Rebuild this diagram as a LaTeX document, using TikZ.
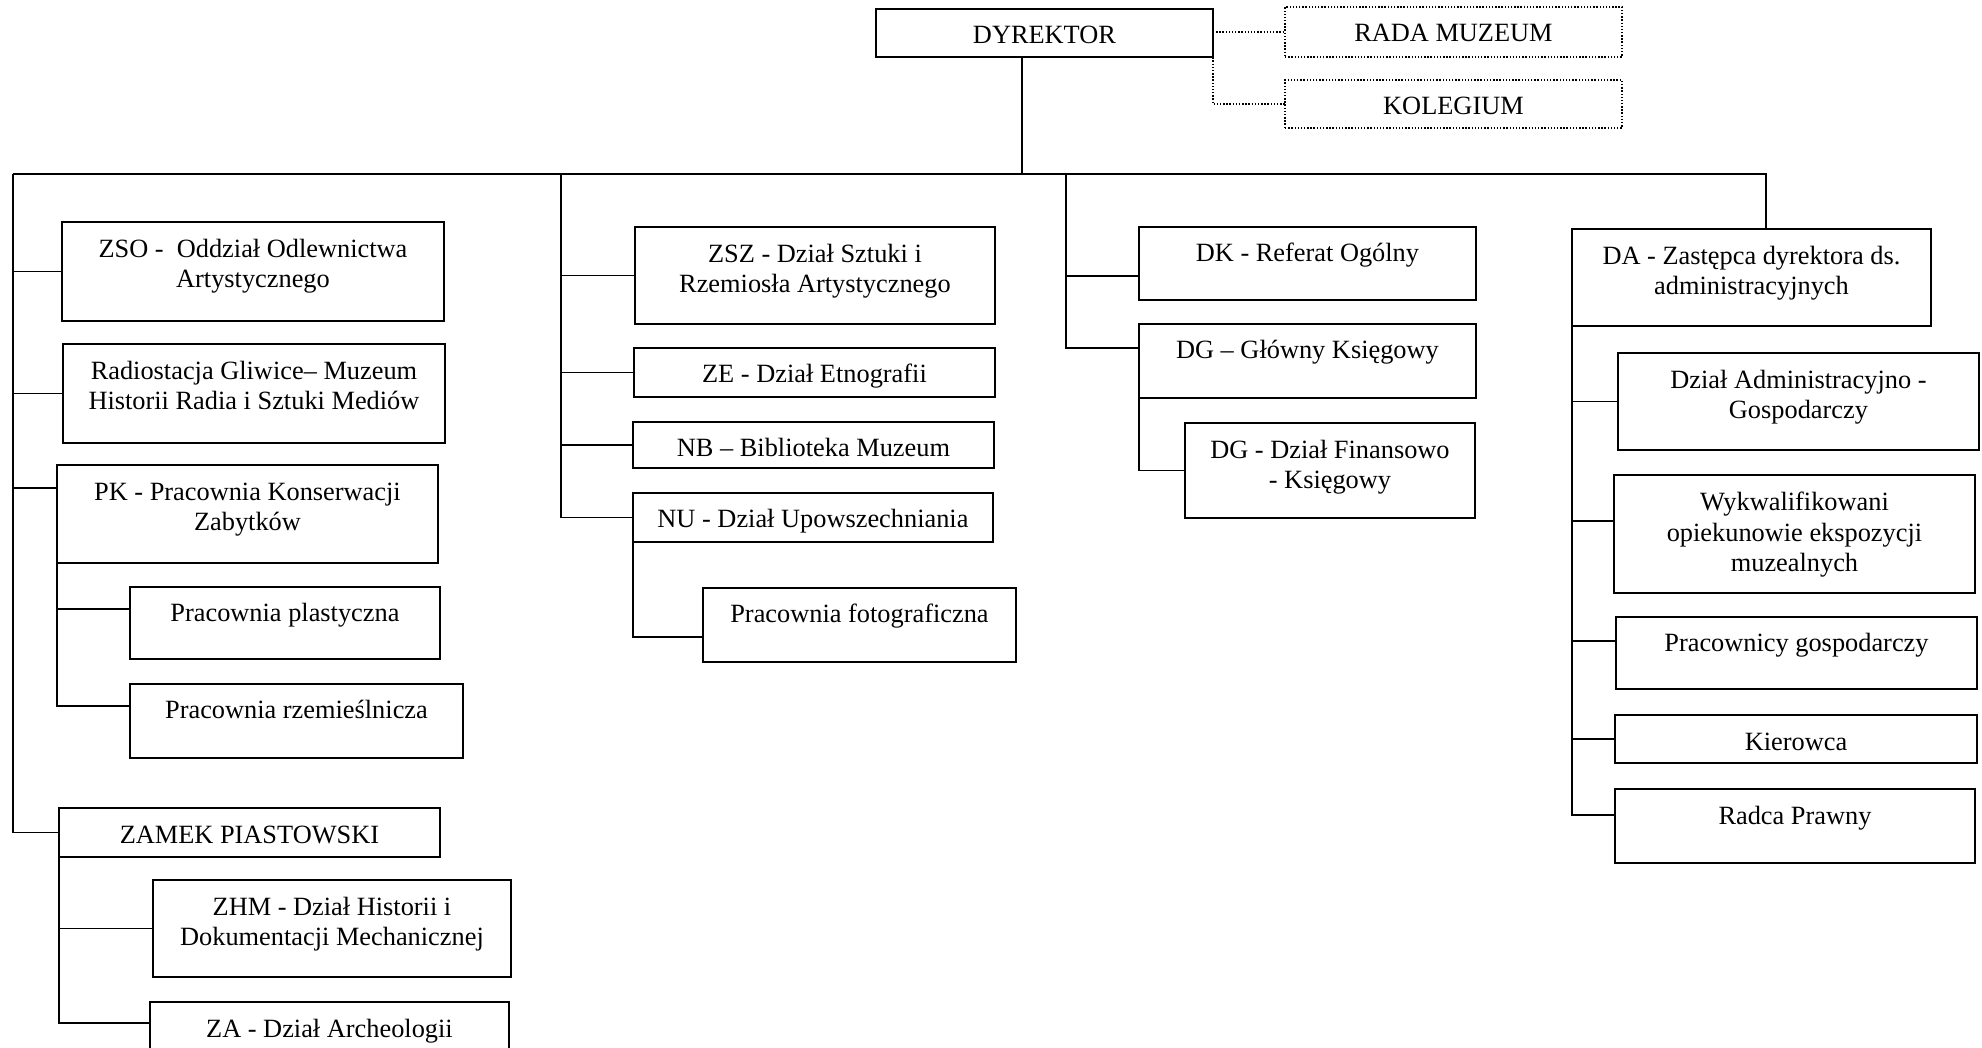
\documentclass[tikz,border=0pt]{standalone}
\usepackage{fontspec}
\setmainfont{Liberation Serif}

\tikzset{
  unit/.style={draw, line width=0.8pt, anchor=north west, outer sep=0pt,
    inner xsep=0pt, inner ysep=0pt, align=center, text height=0.7cm,
    font=\fontsize{15}{17.6}\selectfont},
  twolines/.style={text height=1.32cm},
  threelines/.style={text height=1.94cm},
  council/.style={unit, densely dotted},
  link/.style={line width=0.8pt},
  advisory/.style={line width=0.8pt, densely dotted}
}

\begin{document}
\begin{tikzpicture}[x=0.02cm, y=-0.02cm]
\useasboundingbox (0,0) rectangle (1982,1048);

% top
\node[unit, minimum width=6.74cm, text depth=0.26cm] (dyr) at (876,9) {DYREKTOR};
\node[council, minimum width=6.74cm, text depth=0.30cm] (rada) at (1285,7) {RADA MUZEUM};
\node[council, minimum width=6.74cm, text depth=0.26cm] (kol) at (1285,80) {KOLEGIUM};

% left column
\node[unit, twolines, minimum width=7.64cm, text depth=0.66cm] (zso) at (62,222) {ZSO -\ \ Oddział Odlewnictwa\\Artystycznego};
\node[unit, twolines, minimum width=7.64cm, text depth=0.66cm] (rad) at (63,344) {Radiostacja Gliwice– Muzeum\\Historii Radia i Sztuki Mediów};
\node[unit, twolines, minimum width=7.62cm, text depth=0.64cm] (pk) at (57,465) {PK - Pracownia Konserwacji\\Zabytków};
\node[unit, minimum width=6.20cm, text depth=0.74cm] (plast) at (130,587) {Pracownia plastyczna};
\node[unit, minimum width=6.66cm, text depth=0.78cm] (rzem) at (130,684) {Pracownia rzemieślnicza};
\node[unit, minimum width=7.62cm, text depth=0.28cm] (zamek) at (59,808) {ZAMEK PIASTOWSKI};
\node[unit, twolines, minimum width=7.16cm, text depth=0.62cm] (zhm) at (153,880) {ZHM - Dział Historii i\\Dokumentacji Mechanicznej};
\node[unit, minimum width=7.18cm, text depth=1.24cm] (za) at (150,1002) {ZA - Dział Archeologii};

% second column
\node[unit, twolines, minimum width=7.20cm, text depth=0.62cm] (zsz) at (635,227) {ZSZ - Dział Sztuki i\\Rzemiosła Artystycznego};
\node[unit, minimum width=7.22cm, text depth=0.28cm] (ze) at (634,348) {ZE - Dział Etnografii};
\node[unit, minimum width=7.22cm, text depth=0.22cm] (nb) at (633,422) {NB – Biblioteka Muzeum};
\node[unit, minimum width=7.20cm, text depth=0.28cm] (nu) at (633,493) {NU - Dział Upowszechniania};
\node[unit, minimum width=6.26cm, text depth=0.78cm] (foto) at (703,588) {Pracownia fotograficzna};

% third column
\node[unit, minimum width=6.74cm, text depth=0.76cm] (dk) at (1139,227) {DK - Referat Ogólny};
\node[unit, minimum width=6.74cm, text depth=0.78cm] (dg) at (1139,324) {DG – Główny Księgowy};
\node[unit, twolines, minimum width=5.80cm, text depth=0.58cm] (dgf) at (1185,423) {DG - Dział Finansowo\\- Księgowy};

% right column
\node[unit, twolines, minimum width=7.18cm, text depth=0.62cm] (da) at (1572,229) {DA - Zastępca dyrektora ds.\\administracyjnych};
\node[unit, twolines, minimum width=7.22cm, text depth=0.62cm] (dag) at (1618,353) {Dział Administracyjno -\\Gospodarczy};
\node[unit, threelines, minimum width=7.22cm, text depth=0.42cm] (wyk) at (1614,475) {Wykwalifikowani\\opiekunowie ekspozycji\\muzealnych};
\node[unit, minimum width=7.22cm, text depth=0.74cm] (pracg) at (1616,617) {Pracownicy gospodarczy};
\node[unit, minimum width=7.24cm, text depth=0.26cm] (kier) at (1615,715) {Kierowca};
\node[unit, minimum width=7.20cm, text depth=0.78cm] (radca) at (1615,789) {Radca Prawny};

% bus
\coordinate (busL) at (13,174);
\coordinate (busD) at (1022,174);
\coordinate (busB) at (561,174);
\coordinate (busC) at (1066,174);
\coordinate (busR) at (1766,174);
\draw[link] (dyr.south -| busD) -- (busD);
\draw[link] (busL) -- (busR) -- (da.north -| busR);
\draw[advisory] (dyr.east |- rada.west) -- (rada.west);
\draw[advisory] (dyr.east |- rada.west) |- (kol.west);

% left branches
\coordinate (pkC) at (13,488);
\coordinate (plC) at (57,609);
\coordinate (rzC) at (57,706);
\coordinate (zaC) at (59,1023);
\draw[link] (busL) |- (zamek.west);
\draw[link] (busL |- zso.west) -- (zso.west);
\draw[link] (busL |- rad.west) -- (rad.west);
\draw[link] (pkC) -- (pk.west |- pkC);
\draw[link] (pk.south west) |- (rzem.west |- rzC);
\draw[link] (plC) -- (plast.west |- plC);
\draw[link] (zamek.south west) |- (za.west |- zaC);
\draw[link] (zamek.south west |- zhm.west) -- (zhm.west);

% second branches
\coordinate (foC) at (633,637);
\draw[link] (busB) |- (nu.west);
\draw[link] (busB |- zsz.west) -- (zsz.west);
\draw[link] (busB |- ze.west) -- (ze.west);
\draw[link] (busB |- nb.west) -- (nb.west);
\draw[link] (nu.south west) |- (foto.west |- foC);

% third branches
\coordinate (dkC) at (1066,276);
\coordinate (dgC) at (1066,348);
\draw[link] (busC) -- (dgC) -- (dg.west |- dgC);
\draw[link] (dkC) -- (dk.west |- dkC);
\draw[link] (dg.south west) |- (dgf.west);

% right branches
\coordinate (wyC) at (1572,521);
\coordinate (pgC) at (1572,641);
\coordinate (raC) at (1572,815);
\draw[link] (da.south west) |- (radca.west |- raC);
\draw[link] (da.south west |- dag.west) -- (dag.west);
\draw[link] (wyC) -- (wyk.west |- wyC);
\draw[link] (pgC) -- (pracg.west |- pgC);
\draw[link] (da.south west |- kier.west) -- (kier.west);
\end{tikzpicture}
\end{document}
